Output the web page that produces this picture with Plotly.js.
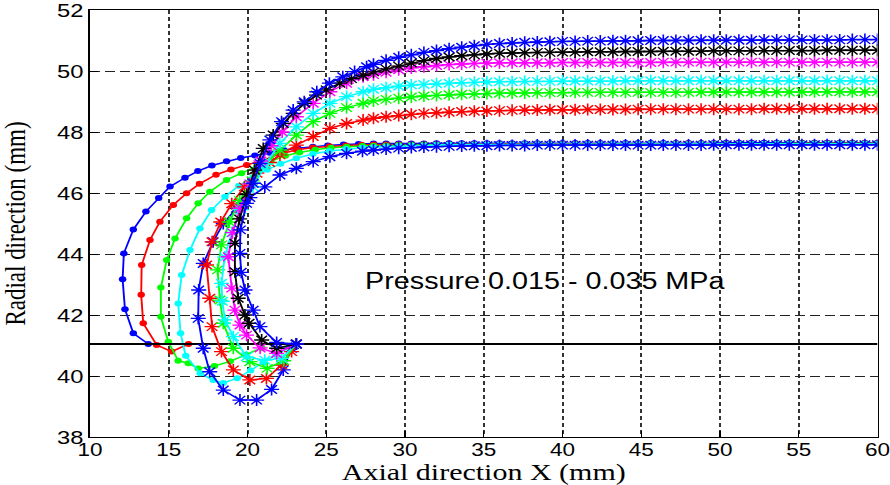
<!DOCTYPE html>
<html>
<head>
<meta charset="utf-8">
<script src="https://cdn.plot.ly/plotly-3.0.1.min.js"></script>
<style>
html,body{margin:0;padding:0;background:#fff;overflow:hidden;}
#plot{width:712px;height:485px;transform:scaleX(1.25);transform-origin:0 0;}
</style>
</head>
<body>
<div id="plot"></div>
<script>
// ---- data ----
const xTail = [28.0,28.8,29.6,30.4,31.2,32.0,32.8,33.6,34.4,35.2,36.0,36.8,37.6,38.4,39.2,40.0,40.8,41.6,42.4,43.2,44.0,44.8,45.6,46.4,47.2,48.0,48.8,49.6,50.4,51.2,52.0,52.8,53.6,54.4,55.2,56.0,56.8,57.6,58.4,59.2,60.0];

const blueDotX = [13.70,12.75,12.22,12.07,12.15,12.75,13.55,14.36,15.08,16.03,16.85,17.74,18.67,19.57,20.47,21.40,22.30,23.20,24.15,25.10,26.10,27.05];
const blueDotY = [41.05,41.40,42.19,43.17,44.02,44.80,45.39,45.84,46.21,46.50,46.72,46.90,47.04,47.15,47.23,47.32,47.41,47.47,47.52,47.56,47.59,47.61];
const blueDotTail = [47.62,47.62,47.62,47.62,47.62,47.63,47.63,47.63,47.63,47.63,47.63,47.63,47.63,47.63,47.63,47.64,47.64,47.64,47.64,47.64,47.64,47.64,47.64,47.64,47.64,47.64,47.64,47.64,47.65,47.65,47.65,47.65,47.65,47.65,47.65,47.65,47.65,47.65,47.65,47.65,47.65];

const redDotX = [16.25,15.18,14.23,13.38,13.25,13.28,13.81,14.44,15.29,16.13,16.95,18.00,18.95,19.95,21.00,22.05,23.10,24.15,25.20,26.25,27.25];
const redDotY = [41.05,40.80,41.02,41.73,42.66,43.64,44.46,45.06,45.61,45.99,46.30,46.60,46.77,46.92,47.08,47.28,47.41,47.49,47.53,47.56,47.58];
const redDotTail = [47.59,47.59,47.59,47.59,47.60,47.60,47.60,47.60,47.60,47.60,47.60,47.60,47.60,47.60,47.61,47.61,47.61,47.61,47.61,47.61,47.61,47.61,47.61,47.61,47.62,47.62,47.62,47.62,47.62,47.62,47.62,47.62,47.62,47.62,47.63,47.63,47.63,47.63,47.63,47.63,47.63];

const greenDotX = [20.90,19.90,18.90,17.90,16.87,16.24,15.60,14.97,14.50,14.50,14.87,15.40,16.13,16.87,17.61,18.67,19.62,20.60,21.50,22.40,23.30,24.30,25.30,26.30,27.30];
const greenDotY = [40.92,40.70,40.48,40.33,40.25,40.42,40.50,41.12,41.94,42.90,43.80,44.51,45.17,45.66,46.04,46.43,46.65,46.88,47.05,47.22,47.33,47.42,47.48,47.52,47.54];
const greenDotTail = [47.55,47.56,47.57,47.58,47.59,47.59,47.59,47.59,47.59,47.59,47.59,47.59,47.60,47.60,47.60,47.60,47.60,47.60,47.60,47.60,47.60,47.60,47.61,47.61,47.61,47.61,47.61,47.61,47.61,47.61,47.61,47.61,47.62,47.62,47.62,47.62,47.62,47.62,47.62,47.62,47.62];

const cyanDotX = [22.60,21.80,21.00,20.20,19.35,18.46,17.82,17.00,16.08,15.75,15.60,15.82,16.35,16.98,17.72,18.57,19.45,20.35,21.25,22.10,23.10,24.15,25.20,26.25,27.30];
const cyanDotY = [40.92,40.70,40.45,40.18,39.93,39.77,39.87,40.09,40.66,41.40,42.38,43.31,44.13,44.84,45.44,45.88,46.24,46.52,46.76,46.96,47.14,47.28,47.38,47.44,47.48];
const cyanDotTail = [47.50,47.52,47.54,47.55,47.56,47.57,47.58,47.59,47.59,47.59,47.59,47.59,47.59,47.59,47.59,47.59,47.59,47.60,47.60,47.60,47.60,47.60,47.60,47.60,47.60,47.60,47.60,47.60,47.60,47.61,47.61,47.61,47.61,47.61,47.61,47.61,47.61,47.61,47.61,47.61,47.61];

const blueStarInX = [23.10,22.79,22.27,21.53,20.58,19.52,18.46,17.60,17.19,16.87,16.90,17.19,17.82,18.46,19.30,20.15,21.10,22.06,23.10,24.17,25.23,26.29,27.30];
const blueStarInY = [41.05,40.91,40.20,39.56,39.21,39.21,39.54,40.14,40.91,41.89,42.82,43.69,44.40,45.00,45.50,45.85,46.20,46.59,46.81,47.03,47.19,47.30,47.37];
const blueStarInTail = [47.41,47.44,47.47,47.49,47.51,47.52,47.53,47.54,47.55,47.55,47.56,47.56,47.56,47.57,47.57,47.57,47.57,47.57,47.57,47.57,47.57,47.57,47.57,47.57,47.57,47.57,47.57,47.58,47.58,47.58,47.58,47.58,47.58,47.58,47.58,47.58,47.58,47.58,47.58,47.58,47.58];

const redStarX = [23.10,22.80,22.16,21.20,20.15,19.10,18.35,17.75,17.60,17.40,17.75,18.30,19.00,19.80,20.60,21.40,22.06,23.10,24.17,25.23,26.29,27.34];
const redStarY = [41.05,40.80,40.36,39.92,39.87,40.20,40.80,41.62,42.55,43.64,44.40,45.05,45.65,46.20,46.65,47.00,47.25,47.57,47.85,48.12,48.28,48.39];
const redStarTail = [48.45,48.50,48.54,48.58,48.61,48.63,48.65,48.67,48.68,48.69,48.70,48.71,48.72,48.72,48.73,48.73,48.73,48.74,48.74,48.74,48.74,48.75,48.75,48.75,48.75,48.75,48.75,48.75,48.75,48.75,48.75,48.76,48.76,48.76,48.76,48.76,48.76,48.76,48.76,48.76,48.76];

const greenStarX = [23.10,22.30,21.25,20.15,19.10,18.46,18.25,18.10,18.35,18.85,19.50,20.30,21.15,22.06,23.10,24.17,25.23,26.29,27.34];
const greenStarY = [41.05,40.50,40.25,40.47,40.91,41.73,42.49,43.48,44.30,45.05,45.75,46.40,46.95,47.41,47.90,48.34,48.61,48.80,48.94];
const greenStarTail = [49.02,49.07,49.11,49.15,49.18,49.20,49.22,49.24,49.25,49.26,49.27,49.28,49.28,49.29,49.29,49.29,49.30,49.30,49.30,49.30,49.30,49.30,49.30,49.30,49.30,49.30,49.31,49.31,49.31,49.31,49.31,49.31,49.31,49.31,49.32,49.32,49.32,49.32,49.32,49.32,49.32];

const cyanStarX = [23.10,22.16,21.10,19.94,19.10,18.57,18.40,18.35,18.55,19.00,19.60,20.35,21.15,22.06,23.10,24.17,25.23,26.29,27.34];
const cyanStarY = [41.05,40.58,40.52,40.63,41.29,41.84,42.45,43.04,43.90,44.70,45.45,46.20,46.95,47.63,48.17,48.61,48.94,49.16,49.32];
const cyanStarTail = [49.40,49.45,49.50,49.54,49.56,49.58,49.60,49.62,49.63,49.64,49.65,49.65,49.66,49.66,49.66,49.67,49.67,49.67,49.67,49.67,49.68,49.68,49.68,49.68,49.68,49.68,49.68,49.68,49.68,49.68,49.68,49.68,49.68,49.68,49.68,49.68,49.68,49.68,49.68,49.68,49.68];

const magentaStarX = [23.10,21.85,20.80,19.94,19.52,19.20,19.00,18.78,19.05,19.55,20.15,20.85,21.50,22.20,23.10,24.17,25.23,26.29,27.34];
const magentaStarY = [41.05,40.74,40.92,41.34,41.67,42.16,42.88,43.91,44.70,45.50,46.30,47.05,47.55,48.00,48.50,48.94,49.32,49.60,49.81];
const magentaStarTail = [49.88,49.96,50.04,50.10,50.14,50.18,50.21,50.23,50.25,50.26,50.27,50.27,50.27,50.27,50.27,50.28,50.28,50.28,50.28,50.28,50.28,50.28,50.28,50.29,50.29,50.29,50.29,50.29,50.29,50.29,50.29,50.29,50.29,50.29,50.29,50.29,50.29,50.29,50.29,50.29,50.29];

const blackStarX = [23.10,21.85,20.90,20.10,19.84,19.41,19.20,19.20,19.50,19.95,20.45,21.00,21.63,22.27,22.90,23.64,24.38,25.00,25.86,26.60,27.34];
const blackStarY = [41.05,40.91,41.18,41.73,42.00,42.55,43.42,44.35,45.15,45.95,46.75,47.46,47.90,48.28,48.61,48.94,49.21,49.38,49.60,49.75,49.86];
const blackStarTail = [49.97,50.07,50.16,50.26,50.34,50.41,50.46,50.50,50.53,50.56,50.58,50.59,50.60,50.61,50.61,50.62,50.62,50.63,50.63,50.63,50.64,50.64,50.64,50.65,50.65,50.65,50.65,50.66,50.66,50.66,50.66,50.67,50.67,50.67,50.67,50.67,50.68,50.68,50.68,50.68,50.68];

const blueStarRX = [23.10,21.85,20.79,20.36,19.84,19.60,19.52,19.55,19.94,20.36,20.80,21.42,22.16,22.90,23.60,24.40,25.20,26.05,26.80,27.56];
const blueStarRY = [41.05,41.10,41.62,42.16,42.82,43.40,44.02,44.79,45.66,46.32,46.97,47.74,48.34,48.72,48.99,49.32,49.60,49.81,49.98,50.14];
const blueStarRTail = [50.22,50.35,50.45,50.53,50.61,50.67,50.73,50.78,50.83,50.87,50.90,50.92,50.94,50.95,50.96,50.97,50.97,50.98,50.98,50.99,50.99,50.99,51.00,51.00,51.00,51.00,51.01,51.01,51.01,51.01,51.01,51.02,51.02,51.02,51.02,51.02,51.02,51.02,51.03,51.03,51.03];

const lineX = [10, 60];
const lineY = [41.05, 41.05];

const xTicks = [10,15,20,25,30,35,40,45,50,55,60];
const yTicks = [38,40,42,44,46,48,50,52];
const noteText = 'Pressure 0.015 - 0.035 MPa';
const noteX = 38.9, noteY = 43.1;

// ---- build traces ----
const dotSeries = [
  [blueDotX, blueDotY, blueDotTail, '#0000ff'],
  [redDotX, redDotY, redDotTail, '#ff0000'],
  [greenDotX, greenDotY, greenDotTail, '#00ff00'],
  [cyanDotX, cyanDotY, cyanDotTail, '#00ffff']
];
const starSeries = [
  [blueStarInX, blueStarInY, blueStarInTail, '#0000ff'],
  [redStarX, redStarY, redStarTail, '#ff0000'],
  [greenStarX, greenStarY, greenStarTail, '#00ff00'],
  [cyanStarX, cyanStarY, cyanStarTail, '#00ffff'],
  [magentaStarX, magentaStarY, magentaStarTail, '#ff00ff'],
  [blackStarX, blackStarY, blackStarTail, '#000000'],
  [blueStarRX, blueStarRY, blueStarRTail, '#0000ff']
];

const traces = [];
dotSeries.forEach(s => traces.push({
  type:'scatter', mode:'lines+markers',
  x: s[0].concat(xTail), y: s[1].concat(s[2]),
  line:{color:s[3], width:1.5},
  marker:{symbol:'circle', size:6, color:s[3], line:{width:0}}
}));
traces.push({type:'scatter', mode:'lines', x: lineX, y: lineY, line:{color:'#000', width:2}});
starSeries.forEach(s => traces.push({
  type:'scatter', mode:'lines+markers',
  x: s[0].concat(xTail), y: s[1].concat(s[2]),
  line:{color:s[3], width:1.5},
  marker:{symbol:'asterisk-open', size:10, color:s[3], line:{color:s[3], width:1.3}}
}));

const layout = {
  width:712, height:485,
  margin:{l:72, r:10, t:10, b:48},
  paper_bgcolor:'#fff', plot_bgcolor:'#fff',
  showlegend:false,
  font:{family:'Liberation Sans, Arial, sans-serif', size:18, color:'#000'},
  xaxis:{
    range:[10,60], tickvals:xTicks, ticktext:xTicks.map(String),
    showgrid:true, gridcolor:'#333', gridwidth:1.6, griddash:'4px,3px',
    showline:true, mirror:true, linecolor:'#000', linewidth:1.4,
    ticks:'inside', ticklen:6, tickcolor:'#000', zeroline:false,
    ticklabeloverflow:'allow', ticklabelstandoff:-4,
    tickfont:{size:18, color:'#000'},
    title:{text:'Axial direction X (mm)', font:{family:'Liberation Serif, Times New Roman, serif', size:24, color:'#000'}, standoff:5}
  },
  yaxis:{
    range:[38,52], tickvals:yTicks, ticktext:yTicks.map(String),
    showgrid:true, gridcolor:'#222', gridwidth:1, griddash:'8px,4px',
    showline:true, mirror:true, linecolor:'#000', linewidth:1.4,
    ticks:'inside', ticklen:6, tickcolor:'#000', zeroline:false,
    ticklabeloverflow:'allow',
    tickfont:{size:19, color:'#000'},
    title:{text:'Radial direction (mm)', font:{family:'Liberation Serif, Times New Roman, serif', size:23, color:'#000'}, standoff:18}
  },
  annotations:[{x:noteX, y:noteY, xref:'x', yref:'y', text:noteText, showarrow:false,
    font:{family:'Liberation Sans, Arial, sans-serif', size:23, color:'#000'}}]
};

Plotly.newPlot('plot', traces, layout, {displayModeBar:false, staticPlot:true});
</script>
</body>
</html>
